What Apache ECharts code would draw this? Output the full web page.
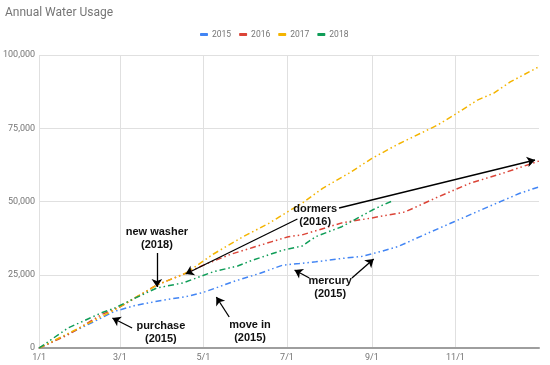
<!DOCTYPE html>
<html>
<head>
<meta charset="utf-8">
<script src="https://cdn.jsdelivr.net/npm/echarts@6/dist/echarts.min.js"></script>
<style>html,body{margin:0;padding:0;background:#fff}#main{width:550px;height:365px}</style>
</head>
<body>
<div id="main"></div>
<script>
// Day-of-year (0 = Jan 1) and cumulative usage
const days2015 = [0,20,40,55,70,90,107,120,144,160,178,190,202,220,236,250,262,281,303,327,351,365];
const vals2015 = [0,4500,9000,12500,14500,16300,17500,19000,23000,25300,28300,28800,29400,30500,31300,33000,34600,38600,43100,48000,52800,55000];
const days2016 = [0,20,46,59,86,107,120,140,156,170,182,192,221,243,267,291,315,339,365];
const vals2016 = [0,4200,11500,14000,21500,25500,28300,32000,34300,36300,38000,38600,42700,44400,46400,51500,56300,59700,63800];
const days2017 = [0,30,55,86,107,127,149,168,185,192,207,226,243,261,291,303,320,332,344,365];
const vals2017 = [0,7000,13000,21500,25500,32000,38000,42600,47500,49400,54500,59600,64700,69300,76100,79500,84600,87000,90800,96000];
const days2018 = [0,21,45,55,70,86,105,127,145,156,178,192,202,221,243,250,258];
const vals2018 = [0,6800,11900,13600,17000,20500,22200,26000,28000,30000,33400,34800,38000,41400,47000,48600,50200];

const seriesNames = ['2015','2016','2017','2018'];
const tickDays = [0,59,120,181,243,304];
const tickLabels = ['1/1','3/1','5/1','7/1','9/1','11/1'];

// Annotations (data coordinates: day, value)
const notes = [
  {text:'purchase\n(2015)', d:88.9, v:5460},
  {text:'move in\n(2015)', d:154, v:5800},
  {text:'new washer\n(2018)', d:86, v:37540},
  {text:'dormers\n(2016)', d:201.6, v:45390},
  {text:'mercury\n(2015)', d:212.5, v:20820}
];
const arrows = [
  [[67.9,6826],[53.5,10239]],
  [[138.8,10580],[129.4,17406]],
  [[86,32424],[86,20819]],
  [[188.6,44028],[107,25256]],
  [[219,47782],[362.1,64164]],
  [[197.3,23891],[186.5,26621]],
  [[228.4,23891],[244.3,30376]]
];

const colors = ['#4285F4','#DB4437','#F4B400','#0F9D58'];
const allDays = [days2015,days2016,days2017,days2018];
const allVals = [vals2015,vals2016,vals2017,vals2018];

const series = seriesNames.map((name,i)=>({
  name, type:'line', showSymbol:false, symbol:'none', silent:true,
  data: allDays[i].map((d,k)=>[d, allVals[i][k]]),
  lineStyle:{width:1.5, type:[6,3,1.5,3,1.5,3], color:colors[i]},
  itemStyle:{color:colors[i]}
}));
series[0].markLine = {
  silent:true, symbol:['none','arrow'], symbolSize:8, animation:false,
  label:{show:false},
  lineStyle:{color:'#000', width:1.3, type:'solid'},
  data: arrows.map(a=>[{coord:a[0]},{coord:a[1]}])
};

const option = {
  animation:false,
  color: colors,
  title:{text:'Annual Water Usage', left:0, top:2,
    textStyle:{fontSize:12, fontWeight:'normal', color:'#757575', fontFamily:'Roboto'}},
  legend:{data:seriesNames, left:195, top:25, icon:'roundRect', itemWidth:8, itemHeight:3, itemGap:8,
    textStyle:{fontSize:8.5, color:'#757575', fontFamily:'Roboto', padding:[0,0,0,-1]}},
  grid:{left:34, right:11, top:55, bottom:17},
  xAxis:{type:'value', min:0, max:365,
    axisLine:{show:true, lineStyle:{color:'#9e9e9e', width:2}},
    axisTick:{show:false, customValues:tickDays},
    splitLine:{show:true, lineStyle:{color:'#e0e0e0', width:1}},
    axisLabel:{customValues:tickDays, fontSize:9, color:'#757575', fontFamily:'Roboto', margin:5,
      formatter:(v)=>tickLabels[tickDays.indexOf(v)] || ''}
  },
  yAxis:{type:'value', min:0, max:100000, interval:25000,
    axisLine:{show:false}, axisTick:{show:false},
    splitLine:{lineStyle:{color:'#e0e0e0', width:1}},
    axisLabel:{fontSize:9, color:'#757575', fontFamily:'Roboto', margin:4,
      formatter:(v)=>v.toLocaleString('en-US')}
  },
  series
};

const chart = echarts.init(document.getElementById('main'), null, {renderer:'canvas'});
chart.setOption(option);
const graphic = notes.map(n=>{
  const p = chart.convertToPixel({gridIndex:0}, [n.d, n.v]);
  return {type:'text', x:p[0], y:p[1], z:100, silent:true,
    style:{text:n.text, align:'center', verticalAlign:'middle', fontSize:11, fontWeight:'bold',
      fontFamily:'Liberation Sans, Arial', fill:'#111', lineHeight:13}};
});
chart.setOption({graphic});
</script>
</body>
</html>
